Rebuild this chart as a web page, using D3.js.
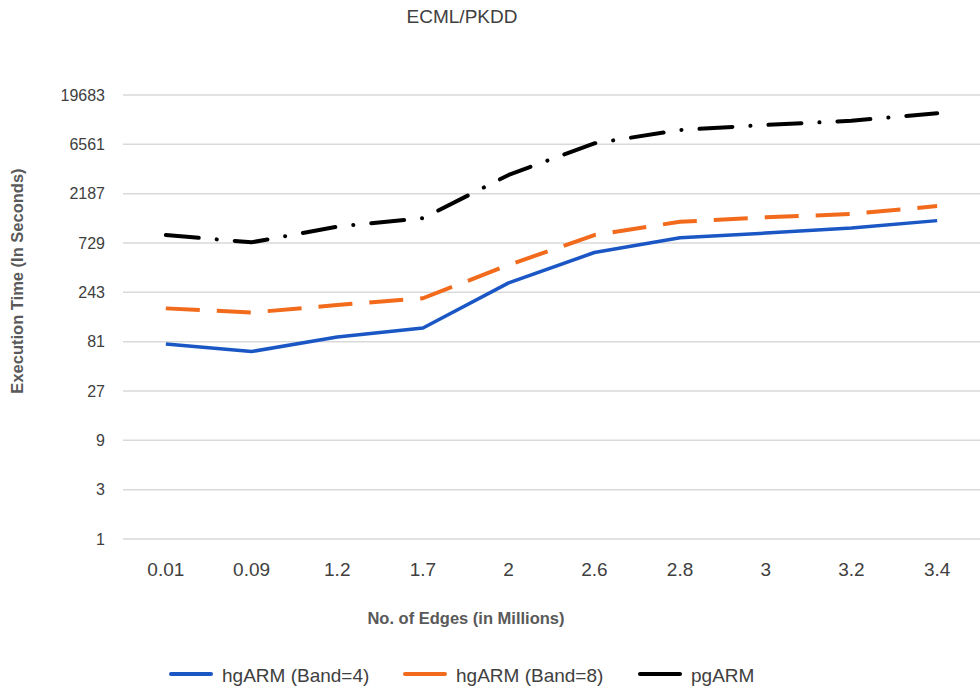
<!DOCTYPE html>
<html>
<head>
<meta charset="utf-8">
<script src="https://cdn.jsdelivr.net/npm/d3@7"></script>
<style>
  html, body { margin: 0; padding: 0; background: #fff; }
  svg text { font-family: "Liberation Sans", "DejaVu Sans", sans-serif; }
</style>
</head>
<body>
<svg id="chart" width="980" height="690"></svg>
<script>
const categories = ["0.01", "0.09", "1.2", "1.7", "2", "2.6", "2.8", "3", "3.2", "3.4"];
const hgARM4 = [77, 65, 90, 110, 300, 590, 820, 910, 1020, 1200];
const hgARM8 = [170, 155, 183, 213, 447, 870, 1170, 1290, 1390, 1660];
const pgARM  = [870, 740, 1050, 1265, 3320, 6710, 9030, 10100, 11100, 13100];
const yTicks = [1, 3, 9, 27, 81, 243, 729, 2187, 6561, 19683];
const seriesNames = ["hgARM (Band=4)", "hgARM (Band=8)", "pgARM"];

const series = [
  { name: seriesNames[0], values: hgARM4, color: "#1a57c5", dash: null, width: 3.5 },
  { name: seriesNames[1], values: hgARM8, color: "#f26a1b", dash: "34,17", width: 4 },
  { name: seriesNames[2], values: pgARM,  color: "#000000", dash: "33,18,0.1,18", width: 4, cap: "round" }
];

const svg = d3.select("#chart");
const plotLeft = 123, plotRight = 980, plotTop = 95, plotBottom = 539;

const x = d3.scaleBand().domain(categories).range([plotLeft, plotRight]);
const y = d3.scaleLog().base(3).domain([1, 19683]).range([plotBottom, plotTop]);

// gridlines
svg.append("g").selectAll("line").data(yTicks).join("line")
  .attr("x1", plotLeft).attr("x2", plotRight)
  .attr("y1", d => y(d)).attr("y2", d => y(d))
  .attr("stroke", "#d9d9d9").attr("stroke-width", 1.5);

// y axis labels
const yAxis = d3.axisLeft(y).tickValues(yTicks).tickFormat(d3.format("d")).tickSize(0).tickPadding(18);
const gy = svg.append("g").attr("transform", `translate(${plotLeft},0)`).call(yAxis);
gy.select(".domain").remove();
gy.selectAll("text").attr("font-size", 16).attr("fill", "#404040")
  .style("font-family", "'Liberation Sans', sans-serif");

// x axis labels
const xAxis = d3.axisBottom(x).tickSize(0).tickPadding(20);
const gx = svg.append("g").attr("transform", `translate(0,${plotBottom})`).call(xAxis);
gx.select(".domain").remove();
gx.selectAll("text").attr("font-size", 19).attr("fill", "#404040")
  .attr("y", 37).attr("dy", null)
  .style("font-family", "'Liberation Sans', sans-serif");

// lines
const line = d3.line()
  .x((d, i) => x(categories[i]) + x.bandwidth() / 2)
  .y(d => y(d));

series.forEach(s => {
  svg.append("path")
    .datum(s.values)
    .attr("d", line)
    .attr("fill", "none")
    .attr("stroke", s.color)
    .attr("stroke-width", s.width)
    .attr("stroke-linejoin", "round")
    .attr("stroke-linecap", s.cap || "butt")
    .attr("stroke-dasharray", s.dash);
});

// title
svg.append("text").attr("x", 462).attr("y", 23).attr("text-anchor", "middle")
  .attr("font-size", 19).attr("fill", "#404040").text("ECML/PKDD");

// axis titles
svg.append("text").attr("transform", "translate(23,281) rotate(-90)")
  .attr("text-anchor", "middle").attr("font-size", 16.5).attr("font-weight", "bold")
  .attr("fill", "#595959").text("Execution Time (In Seconds)");

svg.append("text").attr("x", 466).attr("y", 624).attr("text-anchor", "middle")
  .attr("font-size", 16.5).attr("font-weight", "bold").attr("fill", "#595959")
  .text("No. of Edges (in Millions)");

// legend
const legendX = [171, 405, 640];
const lg = svg.append("g").selectAll("g").data(series).join("g")
  .attr("transform", (d, i) => `translate(${legendX[i]},674)`);
lg.append("line").attr("x1", 0).attr("x2", 40).attr("y1", 0).attr("y2", 0)
  .attr("stroke", d => d.color).attr("stroke-width", 4).attr("stroke-linecap", "round");
lg.append("text").attr("x", 51).attr("y", 8).attr("font-size", 19).attr("fill", "#404040")
  .text(d => d.name);
</script>
</body>
</html>
